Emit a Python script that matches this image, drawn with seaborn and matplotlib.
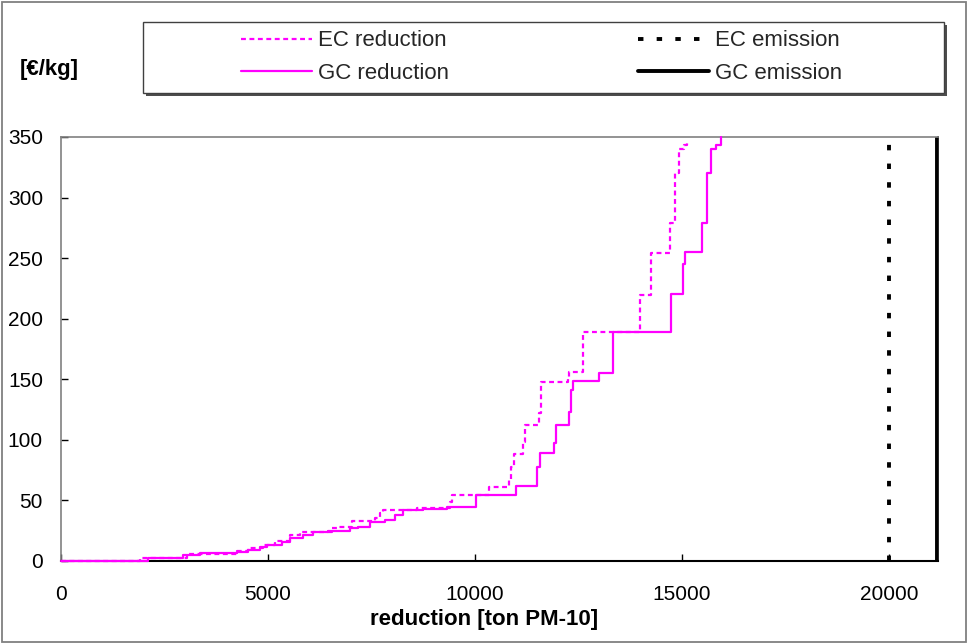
import matplotlib
matplotlib.use("Agg")
import matplotlib.pyplot as plt
from matplotlib.patches import Rectangle
import seaborn as sns

# Cost curves: cumulative PM-10 reduction [ton] at each step and the cost [EUR/kg] from that step on
ec_reduction_x = [0, 1908, 3036, 4244, 4524, 4886, 5169, 5531, 5773, 6539,
                  6691, 7022, 7585, 7705, 7785, 8592, 9396, 9444, 10345, 10821,
                  10870, 10942, 11167, 11208, 11546, 11587, 12239, 12278, 12601, 13973,
                  14251, 14710, 14831, 14935, 15056, 15128, 15170]
ec_reduction_cost = [0, 2.2, 5.8, 8.5, 10.5, 13.0, 16.8, 21.5, 24.0, 27.0,
                     28.3, 33.0, 35.7, 39.3, 42.0, 43.5, 49.0, 54.5, 61.3, 67.0,
                     78.0, 88.0, 98.5, 112.0, 122.0, 148.0, 151.6, 155.7, 188.8, 219.6,
                     254.5, 279.3, 320.0, 339.8, 343.4, 345.3, 345.3]

gc_reduction_x = [0, 2109, 2947, 3357, 4240, 4515, 4807, 4968, 5330, 5531,
                  5845, 6087, 6450, 6981, 7174, 7464, 7826, 8068, 8261, 8744,
                  9324, 10017, 10990, 11490, 11570, 11915, 11950, 12278, 12310, 12360,
                  13002, 13326, 14727, 15031, 15070, 15476, 15611, 15700, 15821, 15935]
gc_reduction_cost = [0, 2.7, 5.0, 6.3, 7.7, 9.0, 11.8, 13.0, 16.0, 18.7,
                     21.5, 23.7, 24.8, 27.0, 28.3, 32.0, 33.8, 38.0, 42.0, 43.0,
                     44.8, 54.5, 62.0, 78.0, 89.4, 97.7, 112.0, 123.0, 141.0, 148.6,
                     155.4, 189.3, 220.4, 245.0, 255.3, 279.3, 320.0, 340.0, 343.4, 350.0]

# Total emissions (upper bound of possible reduction)
ec_emission = 20000
gc_emission = 21150

series_labels = ["EC reduction", "GC reduction", "EC emission", "GC emission"]
x_ticks = [0, 5000, 10000, 15000, 20000]
y_ticks = [0, 50, 100, 150, 200, 250, 300, 350]
x_label = "reduction [ton PM-10]"
y_label = "[€/kg]"

sns.set_theme(style="white")
plt.rcParams["font.family"] = ["Liberation Sans", "DejaVu Sans"]

W, H = 967, 643
fig = plt.figure(figsize=(W / 100, H / 100), dpi=100)
ax = fig.add_axes([61 / W, 1 - 561 / H, 877 / W, 424 / H])

magenta = "#FF00FF"
sns.lineplot(x=ec_reduction_x, y=ec_reduction_cost, ax=ax, estimator=None, sort=False,
             drawstyle="steps-post", color=magenta, lw=1.6,
             linestyle=(0, (2.2, 1.6)), label=series_labels[0], legend=False,
             clip_on=False, zorder=4)
sns.lineplot(x=gc_reduction_x, y=gc_reduction_cost, ax=ax, estimator=None, sort=False,
             drawstyle="steps-post", color=magenta, lw=1.6,
             label=series_labels[1], legend=False, clip_on=False, zorder=4)
ax.axvline(ec_emission, color="black", lw=2.8, linestyle=(0, (1.4, 3.4)),
           label=series_labels[2])
ax.axvline(gc_emission, color="black", lw=2.8, label=series_labels[3])

ax.set_xlim(0, 21180)
ax.set_ylim(0, 350)
ax.set_xticks(x_ticks)
ax.set_yticks(y_ticks)
ax.tick_params(axis="both", direction="in", length=5, width=1, color="black",
               labelsize=15, labelcolor="black")
ax.tick_params(axis="y", pad=13)
ax.tick_params(axis="x", pad=17)
ax.tick_params(top=False, right=False, left=True, bottom=True)

for side in ("left", "top"):
    ax.spines[side].set_color("#808080")
    ax.spines[side].set_linewidth(1.2)
ax.spines["bottom"].set_color("black")
ax.spines["bottom"].set_linewidth(1.5)
ax.spines["right"].set_color("black")
ax.spines["right"].set_linewidth(1.2)

ax.set_ylabel("")
ax.set_xlabel(x_label, fontsize=16, fontweight="bold", color="black")
ax.xaxis.label.set_verticalalignment("center")
ax.xaxis.set_label_coords((484 - 61) / 877, -(620 - 561) / 424)
fig.text(49 / W, 1 - 70 / H, y_label, ha="center", va="center",
         fontsize=16, fontweight="bold", color="black")

# Legend box with a drop shadow
bx0, by0, bw, bh = 143, 22, 801, 71
fig.add_artist(Rectangle(((bx0 + 3) / W, 1 - (by0 + bh + 3) / H), bw / W, bh / H,
                         transform=fig.transFigure, facecolor="#4d4d4d",
                         edgecolor="none", zorder=1))
fig.add_artist(Rectangle((bx0 / W, 1 - (by0 + bh) / H), bw / W, bh / H,
                         transform=fig.transFigure, facecolor="white",
                         edgecolor="#404040", lw=1, zorder=2))

handles, labels = ax.get_legend_handles_labels()
leg = fig.legend(handles, labels, loc="center",
                 bbox_to_anchor=((bx0 + bw / 2 - 2) / W, 1 - (by0 + bh / 2 - 0.5) / H),
                 ncol=2, frameon=False, fontsize=16, handlelength=3.2,
                 handletextpad=0.25, columnspacing=8.5, labelspacing=0.5)
leg.set_zorder(3)

# Outer border around the whole figure
fig.add_artist(Rectangle((1.5 / W, 1.5 / H), (W - 3) / W, (H - 3) / H,
                         transform=fig.transFigure, fill=False,
                         edgecolor="#808080", lw=1.3))

fig.savefig("out.png", dpi=100)
